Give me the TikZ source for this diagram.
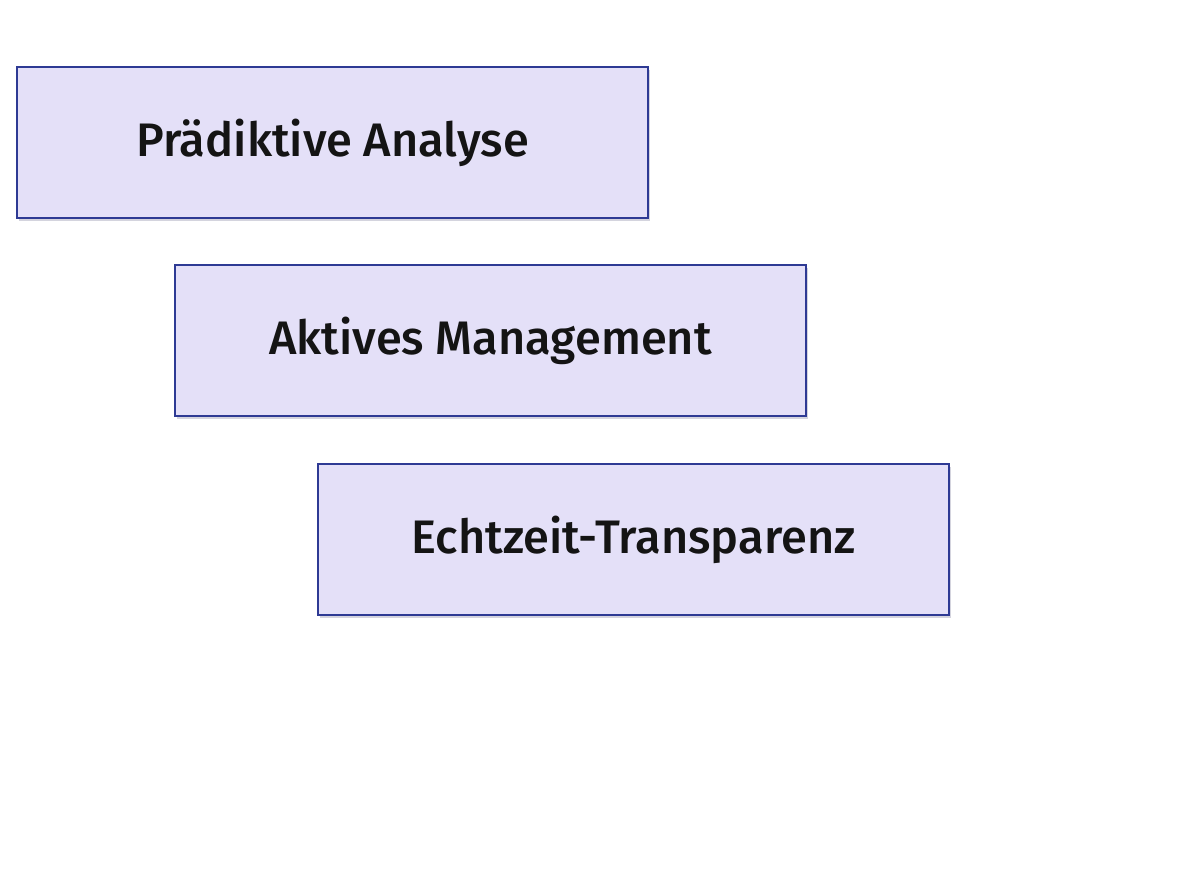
\documentclass[tikz,border=0pt]{standalone}
\usepackage{fontspec}
\setmainfont{Fira Sans}[UprightFont=* Medium]
\definecolor{boxfill}{HTML}{E4E0F8}
\definecolor{boxline}{HTML}{2E3A94}
\definecolor{shadowc}{HTML}{B8B8C8}
\begin{document}
\begin{tikzpicture}[x=1pt,y=-1pt,
  itembox/.style={draw=boxline,fill=boxfill,line width=2.2pt,minimum width=631pt,minimum height=151pt,inner sep=0pt,
    font=\fontsize{47}{52}\selectfont,text=black!92,
    preaction={fill=shadowc,opacity=0.6,transform canvas={shift={(2pt,-3pt)}}}}]
\useasboundingbox (0,0) rectangle (1193,896);
\fill[white] (0,0) rectangle (1193,896);
\node[itembox] (a) at (332.5,142.5) {Prädiktive Analyse};
\node[itembox] (b) at (490.5,340.5) {Aktives Management};
\node[itembox] (c) at (633.5,539.5) {Echtzeit-Transparenz};
\end{tikzpicture}
\end{document}
